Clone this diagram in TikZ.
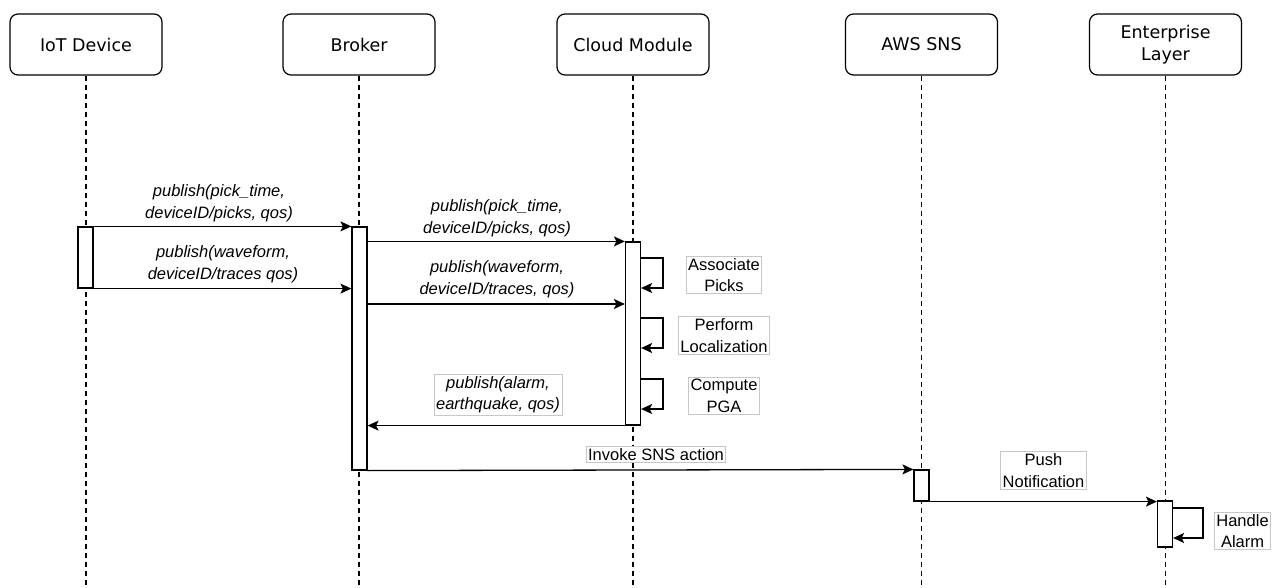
\documentclass[tikz,border=0pt]{standalone}
\usepackage{fontspec}
\usetikzlibrary{arrows.meta,calc}
\newfontfamily\hdrfont{DejaVu Sans}
\newfontfamily\labfont{Liberation Sans}
\begin{document}
\begin{tikzpicture}[x=1pt,y=-1pt,
  header/.style={draw=black,line width=1.2pt,rounded corners=8pt,minimum width=152pt,minimum height=61pt,
    align=center,font=\hdrfont\fontsize{17.5}{22.5}\selectfont,fill=white},
  life/.style={line width=1.2pt,dash pattern=on 5pt off 4pt},
  act/.style={draw=black,line width=1.2pt,fill=white,minimum width=15pt,inner sep=0pt},
  msg/.style={line width=1.3pt,-{Stealth[length=11pt,width=10pt,inset=2.5pt]}},
  lab/.style={align=center,font=\labfont\itshape\fontsize{16.5}{21.5}\selectfont,fill=white,inner sep=1pt},
  boxlab/.style={align=center,font=\labfont\fontsize{16.5}{21.5}\selectfont,fill=white,draw=black!22,line width=0.8pt,inner sep=2pt},
  boxlabi/.style={boxlab,font=\labfont\itshape\fontsize{16.5}{21.5}\selectfont}]
\useasboundingbox (0,0) rectangle (1275,588);
\fill[white] (0,0) rectangle (1275,588);
% headers
\node[header] (h1) at (86,44.5) {IoT Device};
\node[header] (h2) at (359,44.5) {Broker};
\node[header] (h3) at (633,44.5) {Cloud Module};
\node[header] (h4) at (921.5,44.5) {AWS SNS};
\node[header] (h5) at (1165.5,44.5) {Enterprise\\Layer};
% lifelines
\coordinate (bot) at (0,588);
\foreach \h in {h1,h2,h3,h4,h5}{\draw[life] (\h.south) -- (\h.south |- bot);}
% activations
\node[act,minimum height=61pt] (a1) at (85.5,257.5) {};
\node[act,minimum height=243pt] (a2) at (359.5,348.5) {};
\node[act,minimum height=183pt] (a3) at (633,333.5) {};
\node[act,minimum height=31pt] (a4) at (921.5,485.5) {};
\node[act,minimum height=46pt] (a5) at (1165,524) {};
% messages
\draw[msg] (a1.north east) -- (a1.north east -| a2.west);
\draw[msg] (a1.south east) -- (a1.south east -| a2.west);
\draw[msg] (a3.north west -| a2.east) -- (a3.north west);
\coordinate (y4) at (0,304);
\draw[msg] (a2.east |- y4) -- (a3.west |- y4);
\draw[msg] (a3.south west) -- (a3.south west -| a2.east);
\draw[msg] (a2.south east) -- (a4.north west);
\draw[msg] (a4.south east) -- (a4.south east -| a5.west);
% self loops
\coordinate (s1) at (0,258); \coordinate (e1) at (0,288);
\coordinate (s2) at (0,318); \coordinate (e2) at (0,348);
\coordinate (s3) at (0,379); \coordinate (e3) at (0,409);
\draw[msg] (a3.east |- s1) -- ++(22,0) |- (a3.east |- e1);
\draw[msg] (a3.east |- s2) -- ++(22,0) |- (a3.east |- e2);
\draw[msg] (a3.east |- s3) -- ++(22,0) |- (a3.east |- e3);
\coordinate (s4) at (0,508); \coordinate (e4) at (0,538);
\draw[msg] (a5.east |- s4) -- ++(30,0) |- (a5.east |- e4);
% labels
\node[lab] (l1) at (219,203) {publish(pick\_time,\\deviceID/picks, qos)};
\node[lab] (l2) at (223,264) {publish(waveform,\\deviceID/traces qos)};
\node[lab] (l3) at (497,218) {publish(pick\_time,\\deviceID/picks, qos)};
\node[lab] (l4) at (497,279) {publish(waveform,\\deviceID/traces, qos)};
\node[boxlabi] (l5) at (498,394.5) {publish(alarm,\\earthquake, qos)};
\node[boxlab] (l6) at (724,275) {Associate\\Picks};
\node[boxlab] (l7) at (724,335.5) {Perform\\Localization};
\node[boxlab] (l8) at (724,396) {Compute\\PGA};
\node[boxlab] (l9) at (656,454.5) {Invoke SNS action};
\node[boxlab] (l10) at (1043.5,470.5) {Push\\Notification};
\node[boxlab,anchor=west] (l11) at (1214,531) {Handle\\Alarm};
\end{tikzpicture}
\end{document}
